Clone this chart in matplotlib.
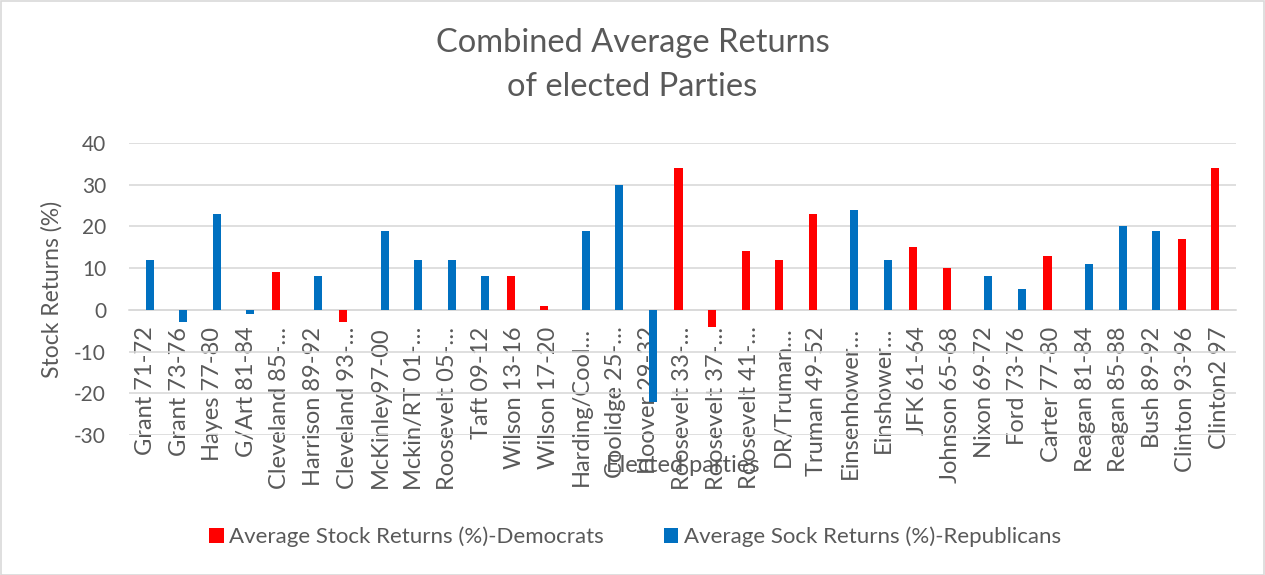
import numpy as np
import matplotlib
matplotlib.use("Agg")
import matplotlib.pyplot as plt
from matplotlib.patches import Rectangle

categories = ["Grant 71-72", "Grant 73-76", "Hayes 77-80", "G/Art 81-84", "Cleveland 85-…",
              "Harrison 89-92", "Cleveland 93-…", "McKinley97-00", "Mckin/RT 01-…", "Roosevelt 05-…",
              "Taft 09-12", "Wilson 13-16", "Wilson 17-20", "Harding/Cool…", "Coolidge 25-…",
              "Hoover 29-32", "Roosevelt 33-…", "Roosevelt 37-…", "Roosevelt 41-…", "DR/Truman…",
              "Truman 49-52", "Einsenhower…", "Einshower…", "JFK 61-64", "Johnson 65-68",
              "Nixon 69-72", "Ford 73-76", "Carter 77-80", "Reagan 81-84", "Reagan 85-88",
              "Bush 89-92", "Clinton 93-96", "Clinton2 97"]
nan = np.nan
democrats = [nan, nan, nan, nan, 9, nan, -3, nan, nan, nan,
             nan, 8, 1, nan, nan, nan, 34, -4, 14, 12,
             23, nan, nan, 15, 10, nan, nan, 13, nan, nan,
             nan, 17, 34]
republicans = [12, -3, 23, -1, nan, 8, nan, 19, 12, 12,
               8, nan, nan, 19, 30, -22, nan, nan, nan, nan,
               nan, 24, 12, nan, nan, 8, 5, nan, 11, 20,
               19, nan, nan]
yticks = [-30, -20, -10, 0, 10, 20, 30, 40]

FONT = ["Lato", "DejaVu Sans"]
plt.rcParams['font.family'] = FONT
TXT = "#595959"
GRID = "#d9d9d9"

W, H = 1265, 575
fig = plt.figure(figsize=(W / 100, H / 100), dpi=100)
left, right, top, bottom = 129, 1236, 143, 435
ax = fig.add_axes([left / W, 1 - bottom / H, (right - left) / W, (bottom - top) / H])

x = np.arange(len(categories))
w = 0.24
ax.bar(x - w / 2, democrats, width=w, color="#FF0000", label="Average Stock Returns (%)-Democrats", zorder=3)
ax.bar(x + w / 2, republicans, width=w, color="#0070C0", label="Average Sock Returns (%)-Republicans", zorder=3)

ax.set_xlim(-0.5, len(categories) - 0.5)
ax.set_ylim(-30, 40)
ax.set_yticks(yticks)
ax.set_yticklabels([str(v) for v in yticks], fontsize=15, color=TXT)
ax.yaxis.grid(True, color=GRID, linewidth=1.2, zorder=0)
ax.set_axisbelow(True)
ax.tick_params(axis="y", length=0, pad=16.5)

for s in ["top", "right", "left"]:
    ax.spines[s].set_visible(False)
ax.spines["bottom"].set_position(("data", 0))
ax.spines["bottom"].set_color(GRID)
ax.spines["bottom"].set_linewidth(1.2)
ax.set_xticks(x)
ax.set_xticklabels(categories, rotation=90, fontsize=17, color=TXT, va="top", ha="center")
ax.tick_params(axis="x", length=0, pad=12)

ax.set_ylabel("Stock Returns (%)", fontsize=16.5, color=TXT)
ax.yaxis.set_label_coords((63 - left) / (right - left), 0.5)

fig.text(0.5, 1 - 65 / H, "Combined Average Returns\nof elected Parties", ha="center", va="center",
         fontsize=23.5, color=TXT, linespacing=1.6)
fig.text((left + right) / 2 / W, 1 - 466 / H, "Elected parties", ha="center", va="center",
         fontsize=17, color=TXT)

leg = fig.legend(loc="center", bbox_to_anchor=(635 / W, 1 - 537 / H), ncol=2, frameon=False,
                 fontsize=16, labelcolor=TXT, handlelength=0.64, handleheight=0.64,
                 handletextpad=0.25, columnspacing=2.7)

fig.add_artist(Rectangle((0.5 / W, 0.5 / H), 1 - 1.5 / W, 1 - 1.5 / H, transform=fig.transFigure,
                         fill=False, edgecolor=GRID, linewidth=1.2))

fig.savefig("out.png", dpi=100, facecolor="white")
